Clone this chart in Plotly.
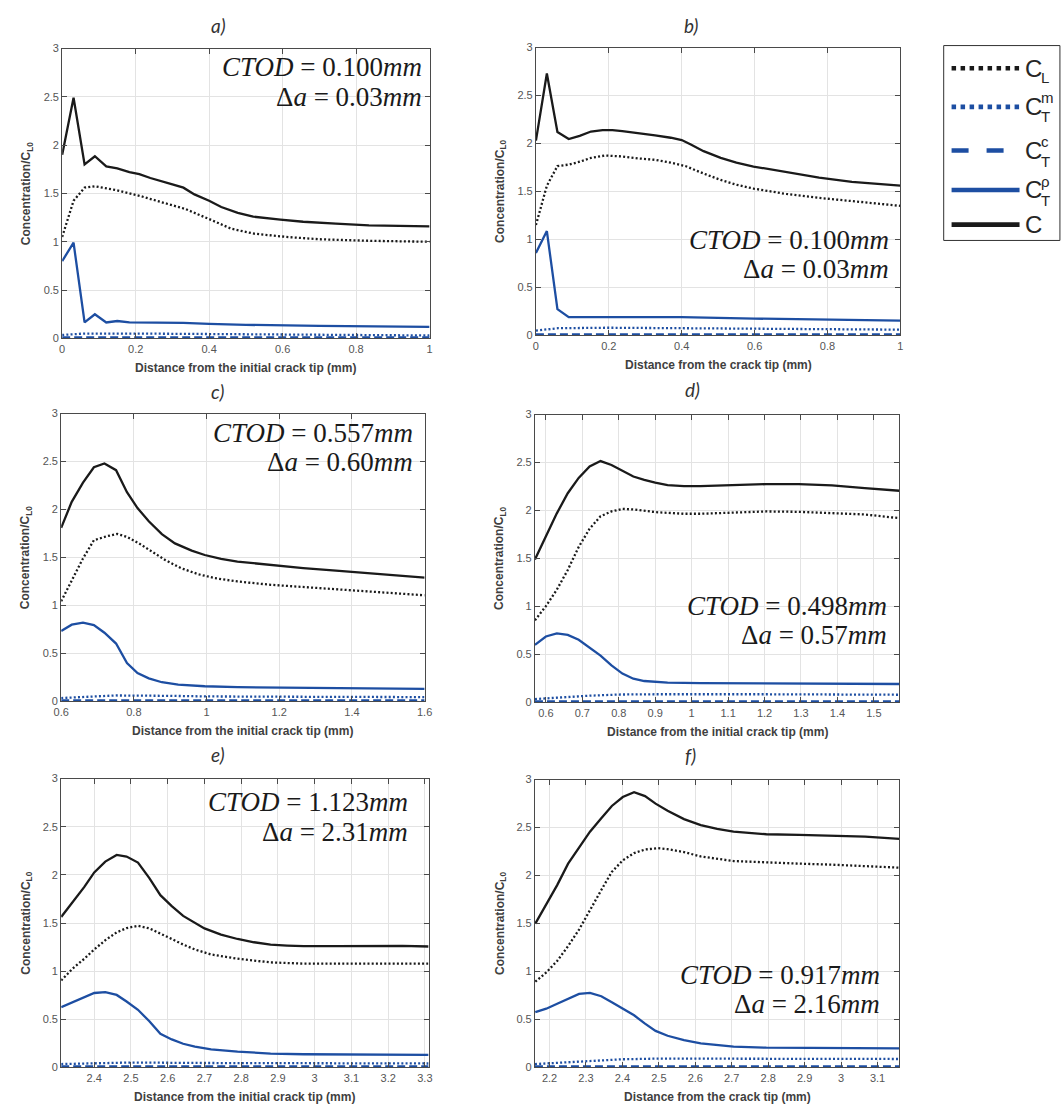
import plotly.graph_objects as go

W, H = 1063, 1113

# ---------------- data ----------------
# panel a
A_C_X = [0, 0.031, 0.061, 0.089, 0.12, 0.15, 0.183, 0.21, 0.24, 0.27, 0.30, 0.33, 0.36, 0.40, 0.433, 0.478, 0.52, 0.594, 0.656, 0.745, 0.835, 1.0]
A_C = [1.90, 2.49, 1.80, 1.885, 1.78, 1.76, 1.72, 1.70, 1.66, 1.63, 1.595, 1.56, 1.49, 1.425, 1.36, 1.30, 1.26, 1.23, 1.207, 1.187, 1.17, 1.16]
A_CL_X = [0, 0.031, 0.061, 0.089, 0.147, 0.21, 0.27, 0.335, 0.397, 0.46, 0.522, 0.61, 0.70, 0.835, 1.0]
A_CL = [1.05, 1.425, 1.56, 1.575, 1.535, 1.476, 1.41, 1.34, 1.24, 1.135, 1.084, 1.05, 1.026, 1.01, 1.0]
A_RHO_X = [0, 0.031, 0.061, 0.089, 0.12, 0.15, 0.183, 0.21, 0.27, 0.33, 0.40, 0.5, 0.7, 1.0]
A_RHO = [0.80, 0.99, 0.165, 0.25, 0.165, 0.18, 0.165, 0.165, 0.16, 0.16, 0.15, 0.14, 0.13, 0.12]
A_M_X = [0, 0.06, 0.2, 0.4, 0.6, 1.0]
A_M = [0.035, 0.05, 0.05, 0.045, 0.04, 0.03]
A_CC_X = [0, 1.0]
A_CC = [0.008, 0.008]

# panel b
B_C_X = [0, 0.03, 0.059, 0.09, 0.12, 0.151, 0.183, 0.21, 0.237, 0.28, 0.327, 0.37, 0.40, 0.425, 0.46, 0.507, 0.55, 0.597, 0.687, 0.777, 0.867, 1.0]
B_C = [2.03, 2.73, 2.12, 2.047, 2.08, 2.125, 2.14, 2.14, 2.13, 2.11, 2.085, 2.06, 2.036, 1.99, 1.92, 1.85, 1.80, 1.76, 1.70, 1.645, 1.60, 1.56]
B_CL_X = [0, 0.03, 0.059, 0.09, 0.12, 0.151, 0.19, 0.237, 0.28, 0.327, 0.37, 0.41, 0.46, 0.507, 0.55, 0.597, 0.687, 0.777, 0.867, 1.0]
B_CL = [1.15, 1.56, 1.765, 1.78, 1.81, 1.85, 1.875, 1.865, 1.845, 1.83, 1.80, 1.765, 1.687, 1.62, 1.57, 1.53, 1.474, 1.433, 1.40, 1.35]
B_RHO_X = [0, 0.03, 0.059, 0.09, 0.2, 0.4, 0.6, 1.0]
B_RHO = [0.86, 1.087, 0.274, 0.19, 0.19, 0.19, 0.175, 0.155]
B_M_X = [0, 0.06, 0.2, 0.6, 1.0]
B_M = [0.05, 0.075, 0.08, 0.07, 0.06]
B_CC_X = [0, 1.0]
B_CC = [0.008, 0.008]

# panel c
C_C_X = [0.6, 0.629, 0.66, 0.69, 0.719, 0.751, 0.781, 0.81, 0.841, 0.877, 0.913, 0.959, 0.995, 1.04, 1.085, 1.175, 1.266, 1.356, 1.446, 1.6]
C_C = [1.81, 2.08, 2.28, 2.44, 2.48, 2.41, 2.18, 2.015, 1.877, 1.743, 1.647, 1.571, 1.526, 1.485, 1.457, 1.42, 1.39, 1.364, 1.337, 1.29]
C_CL_X = [0.6, 0.629, 0.66, 0.69, 0.724, 0.754, 0.781, 0.814, 0.85, 0.886, 0.93, 0.977, 1.022, 1.085, 1.175, 1.266, 1.356, 1.446, 1.6]
C_CL = [1.044, 1.268, 1.49, 1.68, 1.72, 1.746, 1.715, 1.647, 1.56, 1.474, 1.388, 1.326, 1.285, 1.25, 1.216, 1.192, 1.171, 1.147, 1.106]
C_RHO_X = [0.6, 0.629, 0.66, 0.69, 0.719, 0.751, 0.781, 0.81, 0.841, 0.877, 0.922, 0.995, 1.085, 1.266, 1.6]
C_RHO = [0.734, 0.80, 0.82, 0.796, 0.716, 0.603, 0.40, 0.296, 0.241, 0.20, 0.176, 0.158, 0.148, 0.141, 0.131]
C_M_X = [0.6, 0.68, 0.75, 0.9, 1.0, 1.3, 1.6]
C_M = [0.035, 0.05, 0.062, 0.058, 0.052, 0.048, 0.045]
C_CC_X = [0.6, 1.6]
C_CC = [0.008, 0.008]

# panel d
D_C_X = [0.57, 0.6, 0.63, 0.66, 0.69, 0.72, 0.75, 0.78, 0.81, 0.84, 0.87, 0.9, 0.934, 0.979, 1.024, 1.114, 1.204, 1.294, 1.385, 1.475, 1.57]
D_C = [1.49, 1.73, 1.97, 2.18, 2.34, 2.46, 2.515, 2.474, 2.41, 2.354, 2.32, 2.29, 2.265, 2.254, 2.254, 2.268, 2.275, 2.275, 2.261, 2.234, 2.206]
D_CL_X = [0.57, 0.6, 0.63, 0.66, 0.69, 0.72, 0.75, 0.78, 0.81, 0.843, 0.9, 0.979, 1.024, 1.114, 1.204, 1.294, 1.385, 1.475, 1.57]
D_CL = [0.856, 1.003, 1.175, 1.38, 1.62, 1.81, 1.94, 1.99, 2.017, 2.01, 1.983, 1.966, 1.966, 1.979, 1.99, 1.986, 1.972, 1.959, 1.92]
D_RHO_X = [0.57, 0.6, 0.63, 0.66, 0.69, 0.72, 0.75, 0.78, 0.81, 0.84, 0.87, 0.934, 1.024, 1.57]
D_RHO = [0.60, 0.687, 0.72, 0.704, 0.653, 0.574, 0.488, 0.385, 0.30, 0.247, 0.223, 0.206, 0.20, 0.192]
D_M_X = [0.57, 0.65, 0.72, 0.8, 0.9, 1.2, 1.57]
D_M = [0.035, 0.055, 0.07, 0.082, 0.085, 0.085, 0.08]
D_CC_X = [0.57, 1.57]
D_CC = [0.008, 0.008]

# panel e
E_C_X = [2.31, 2.341, 2.373, 2.4, 2.43, 2.461, 2.488, 2.519, 2.55, 2.58, 2.611, 2.642, 2.674, 2.7, 2.745, 2.79, 2.835, 2.88, 2.925, 2.97, 3.06, 3.149, 3.239, 3.31]
E_C = [1.563, 1.717, 1.875, 2.025, 2.138, 2.207, 2.19, 2.128, 1.967, 1.789, 1.676, 1.574, 1.498, 1.444, 1.379, 1.334, 1.30, 1.276, 1.266, 1.259, 1.259, 1.262, 1.262, 1.256]
E_CL_X = [2.31, 2.341, 2.373, 2.4, 2.431, 2.461, 2.488, 2.519, 2.55, 2.58, 2.611, 2.642, 2.674, 2.718, 2.79, 2.88, 2.97, 3.149, 3.31]
E_CL = [0.903, 1.026, 1.129, 1.225, 1.324, 1.403, 1.447, 1.471, 1.444, 1.386, 1.334, 1.276, 1.225, 1.173, 1.129, 1.091, 1.078, 1.078, 1.078]
E_RHO_X = [2.31, 2.341, 2.373, 2.4, 2.43, 2.461, 2.488, 2.519, 2.55, 2.58, 2.611, 2.642, 2.674, 2.718, 2.79, 2.88, 2.97, 3.31]
E_RHO = [0.626, 0.677, 0.729, 0.773, 0.783, 0.753, 0.684, 0.599, 0.479, 0.349, 0.291, 0.246, 0.216, 0.188, 0.164, 0.144, 0.137, 0.13]
E_M_X = [2.31, 2.4, 2.5, 2.7, 3.0, 3.31]
E_M = [0.035, 0.045, 0.051, 0.046, 0.042, 0.041]
E_CC_X = [2.31, 3.31]
E_CC = [0.008, 0.008]

# panel f
F_C_X = [2.161, 2.191, 2.221, 2.251, 2.281, 2.311, 2.342, 2.371, 2.401, 2.432, 2.462, 2.491, 2.524, 2.569, 2.615, 2.66, 2.705, 2.75, 2.795, 2.885, 2.976, 3.066, 3.16]
F_C = [1.498, 1.694, 1.90, 2.124, 2.296, 2.457, 2.598, 2.725, 2.818, 2.869, 2.828, 2.749, 2.674, 2.588, 2.526, 2.485, 2.457, 2.44, 2.43, 2.423, 2.416, 2.405, 2.381]
F_CL_X = [2.161, 2.191, 2.221, 2.251, 2.281, 2.311, 2.342, 2.371, 2.401, 2.432, 2.462, 2.498, 2.524, 2.569, 2.615, 2.705, 2.795, 2.885, 2.976, 3.066, 3.16]
F_CL = [0.893, 0.99, 1.11, 1.265, 1.436, 1.643, 1.849, 2.038, 2.158, 2.234, 2.271, 2.285, 2.275, 2.244, 2.199, 2.151, 2.134, 2.124, 2.113, 2.10, 2.082]
F_RHO_X = [2.161, 2.191, 2.221, 2.251, 2.281, 2.311, 2.342, 2.371, 2.401, 2.432, 2.462, 2.491, 2.524, 2.569, 2.615, 2.705, 2.795, 3.16]
F_RHO = [0.577, 0.612, 0.663, 0.715, 0.766, 0.777, 0.742, 0.68, 0.612, 0.543, 0.457, 0.381, 0.33, 0.285, 0.251, 0.216, 0.206, 0.199]
F_M_X = [2.16, 2.25, 2.3, 2.4, 2.5, 2.8, 3.16]
F_M = [0.035, 0.055, 0.065, 0.085, 0.092, 0.092, 0.088]
F_CC_X = [2.16, 3.16]
F_CC = [0.008, 0.008]

PANEL_LABELS = ["a)", "b)", "c)", "d)", "e)", "f)"]
CTOD_TEXT = ["0.100", "0.100", "0.557", "0.498", "1.123", "0.917"]
DA_TEXT = ["0.03", "0.03", "0.60", "0.57", "2.31", "2.16"]
XLABELS = ["Distance from the initial crack tip (mm)", "Distance from the crack tip (mm)",
           "Distance from the initial crack tip (mm)", "Distance from the initial crack tip (mm)",
           "Distance from the initial crack tip (mm)", "Distance from the crack tip (mm)"]
X_RANGES = [[0, 1], [0, 1], [0.6, 1.6], [0.57, 1.57], [2.31, 3.31], [2.16, 3.16]]
X_DTICK = [0.2, 0.2, 0.2, 0.1, 0.1, 0.1]

SERIES = [
    dict(CL=(A_CL_X, A_CL), M=(A_M_X, A_M), CC=(A_CC_X, A_CC), RHO=(A_RHO_X, A_RHO), C=(A_C_X, A_C)),
    dict(CL=(B_CL_X, B_CL), M=(B_M_X, B_M), CC=(B_CC_X, B_CC), RHO=(B_RHO_X, B_RHO), C=(B_C_X, B_C)),
    dict(CL=(C_CL_X, C_CL), M=(C_M_X, C_M), CC=(C_CC_X, C_CC), RHO=(C_RHO_X, C_RHO), C=(C_C_X, C_C)),
    dict(CL=(D_CL_X, D_CL), M=(D_M_X, D_M), CC=(D_CC_X, D_CC), RHO=(D_RHO_X, D_RHO), C=(D_C_X, D_C)),
    dict(CL=(E_CL_X, E_CL), M=(E_M_X, E_M), CC=(E_CC_X, E_CC), RHO=(E_RHO_X, E_RHO), C=(E_C_X, E_C)),
    dict(CL=(F_CL_X, F_CL), M=(F_M_X, F_M), CC=(F_CC_X, F_CC), RHO=(F_RHO_X, F_RHO), C=(F_C_X, F_C)),
]

# ---------------- styling / layout ----------------
BLACK = "#1a1a1a"
BLUE = "#1d4ea2"
AXC = "#4a4a4a"
GRID = "#e3e3e3"
TICKC = "#555555"

# plot-area boxes in pixels (left, right, top, bottom)
BOX = [(55, 428, 43, 336), (536, 906, 42, 333),
       (54, 423, 412, 703), (535, 905, 413, 704),
       (54, 427, 781, 1073), (535, 905, 782, 1073)]
TITLE_POS = [(214, 20), (694, 20), (213, 390), (695, 388), (213, 757), (693, 758)]
ANNOT_POS = [(422, 62, 92), (897, 237, 266), (413, 432, 461), (894, 607, 636), (408, 805, 835), (887, 980, 1009)]

def px(x):
    return x / W

def py(y):
    return 1 - y / H

STYLES = {
    "CL": dict(color=BLACK, width=2.3, dash="2px,2.2px"),
    "M": dict(color=BLUE, width=2.3, dash="2px,2.2px"),
    "CC": dict(color=BLUE, width=2.6, dash="8px,4px"),
    "RHO": dict(color=BLUE, width=2.3, dash="solid"),
    "C": dict(color=BLACK, width=2.3, dash="solid"),
}
NAMES = {"CL": "C_L", "M": "C_T^m", "CC": "C_T^c", "RHO": "C_T^rho", "C": "C"}

fig = go.Figure()
annotations = []
shapes = []
layout = {}

for i in range(6):
    n = "" if i == 0 else str(i + 1)
    xref, yref = "x" + n, "y" + n
    s = SERIES[i]
    for key in ["CC", "M", "RHO", "CL", "C"]:
        xs, ys = s[key]
        fig.add_trace(go.Scatter(x=xs, y=ys, mode="lines", line=STYLES[key],
                                 name=NAMES[key], showlegend=False, xaxis=xref, yaxis=yref,
                                 hoverinfo="skip"))
    l, r, t, b = BOX[i]
    common = dict(showline=True, linecolor=AXC, linewidth=1, mirror="ticks",
                  ticks="inside", ticklen=5, tickcolor=AXC, tickwidth=1,
                  showgrid=True, gridcolor=GRID, gridwidth=1, zeroline=False,
                  tickfont=dict(family="Liberation Sans, Arial", size=11, color=TICKC))
    layout["xaxis" + n] = dict(domain=[px(l), px(r)], range=X_RANGES[i], dtick=X_DTICK[i],
                               tick0=0, anchor=yref, **common)
    layout["yaxis" + n] = dict(domain=[py(b), py(t)], range=[0, 3], dtick=0.5, tick0=0,
                               anchor=xref, **common)
    # panel title
    tx, ty = TITLE_POS[i]
    annotations.append(dict(text="<i>" + PANEL_LABELS[i] + "</i>", x=px(tx), y=py(ty), xref="paper", yref="paper",
                            showarrow=False, xanchor="center", yanchor="middle",
                            font=dict(family="Lato, Open Sans", size=19, color="#333333")))
    # axis titles
    annotations.append(dict(text="<b>" + XLABELS[i] + "</b>", x=px((l + r) / 2), y=py(b + 30),
                            xref="paper", yref="paper", showarrow=False, xanchor="center", yanchor="middle",
                            font=dict(family="Liberation Sans, Arial", size=12, color="#404040")))
    annotations.append(dict(text="<b>Concentration/C<sub>L0</sub></b>", x=px(l - 35), y=py((t + b) / 2),
                            xref="paper", yref="paper", showarrow=False, xanchor="center", yanchor="middle",
                            textangle=-90,
                            font=dict(family="Liberation Sans, Arial", size=12, color="#404040")))
    # CTOD / delta a
    ax_, ay1, ay2 = ANNOT_POS[i]
    afont = dict(family="Liberation Serif, Times New Roman", size=27, color="#1a1a1a")
    annotations.append(dict(text="<i>CTOD</i> = " + CTOD_TEXT[i] + "<i>mm</i>", x=px(ax_), y=py(ay1),
                            xref="paper", yref="paper", showarrow=False, xanchor="right", yanchor="middle",
                            font=afont))
    annotations.append(dict(text="Δ<i>a</i> = " + DA_TEXT[i] + "<i>mm</i>", x=px(ax_), y=py(ay2),
                            xref="paper", yref="paper", showarrow=False, xanchor="right", yanchor="middle",
                            font=afont))

# ---------------- custom legend ----------------
LEG_L, LEG_T, LEG_B = 950, 40, 237
shapes.append(dict(type="rect", xref="paper", yref="paper", x0=px(LEG_L), x1=px(W + 5),
                   y0=py(LEG_B), y1=py(LEG_T), line=dict(color="#303030", width=1), fillcolor="white",
                   layer="below"))
LEG_ROWS = [
    ("CL", 63, "L", None, 72, None),
    ("M", 102, "T", "m", 112, 93),
    ("CC", 146, "T", "c", 157, 137),
    ("RHO", 186, "T", "ρ", 197, 177),
    ("C", 221, None, None, None, None),
]
LEG_DASH = {"CL": "4.5px,4.5px", "M": "4.5px,4.5px", "CC": "17px,18px", "RHO": "solid", "C": "solid"}
for key, yc, sub, sup, ysub, ysup in LEG_ROWS:
    st = STYLES[key]
    shapes.append(dict(type="line", xref="paper", yref="paper", x0=px(958), x1=px(1027),
                       y0=py(yc), y1=py(yc), line=dict(color=st["color"], width=4.6, dash=LEG_DASH[key])))
    annotations.append(dict(text="C", x=px(1031), y=py(yc), xref="paper", yref="paper", showarrow=False,
                            xanchor="left", yanchor="middle",
                            font=dict(family="Liberation Sans, Arial", size=24, color="#262626")))
    if sub:
        annotations.append(dict(text=sub, x=px(1047), y=py(ysub), xref="paper", yref="paper", showarrow=False,
                                xanchor="left", yanchor="middle",
                                font=dict(family="Liberation Sans, Arial", size=15, color="#262626")))
    if sup:
        annotations.append(dict(text=sup, x=px(1047), y=py(ysup), xref="paper", yref="paper", showarrow=False,
                                xanchor="left", yanchor="middle",
                                font=dict(family="Liberation Sans, Arial", size=15, color="#262626")))

fig.update_layout(width=W, height=H, margin=dict(l=0, r=0, t=0, b=0),
                  paper_bgcolor="white", plot_bgcolor="white", showlegend=False,
                  annotations=annotations, shapes=shapes, **layout)

fig.write_html("out.html")
